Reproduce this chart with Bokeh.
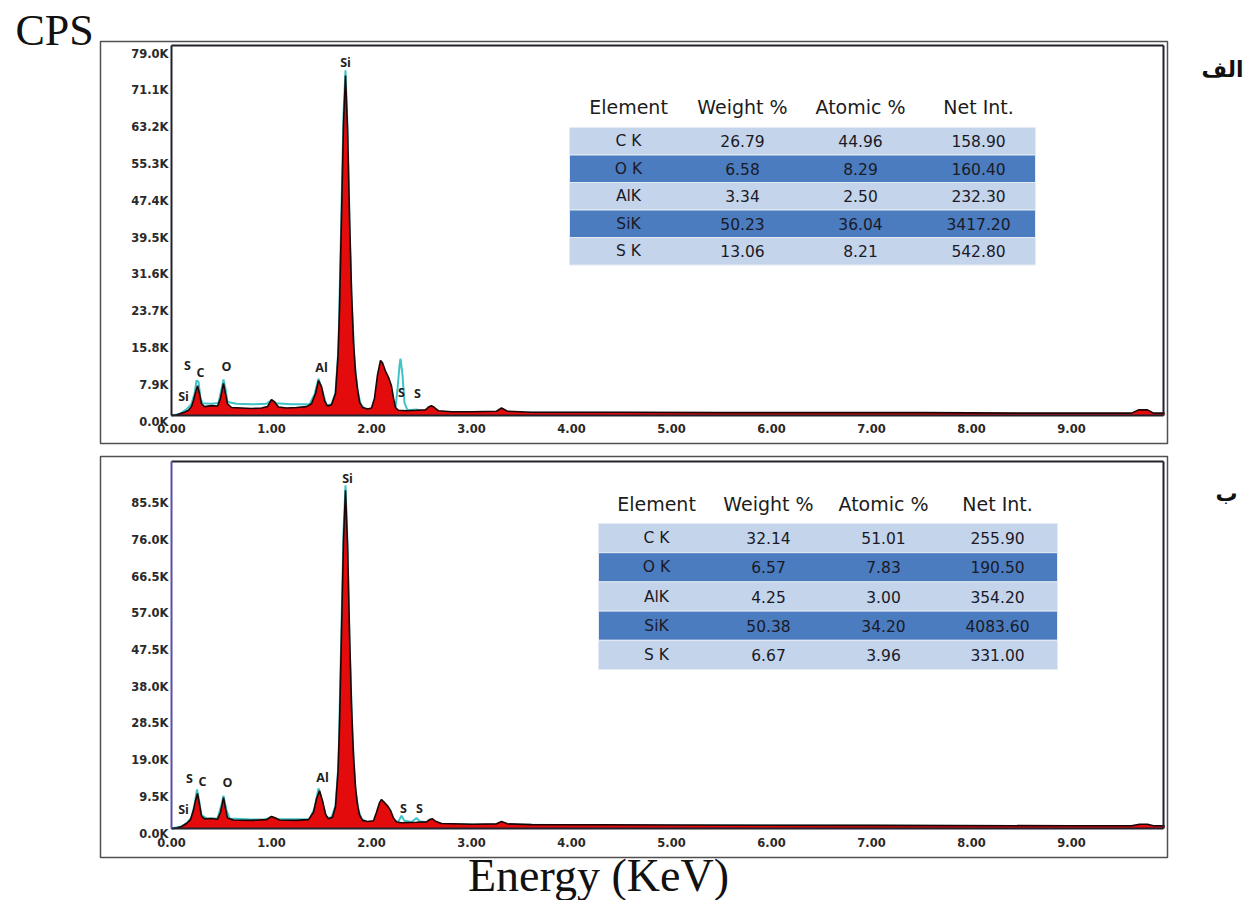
from bokeh.plotting import figure
from bokeh.layouts import column
from bokeh.models import (ColumnDataSource, FixedTicker, LinearAxis, Range1d,
                          CustomJSTickFormatter)
from bokeh.embed import file_html
from bokeh.resources import INLINE
from bokeh.core.properties import value

# ---------------- data: spectrum "الف" (top) ----------------
top_red_energy = [0.00, 0.05, 0.09, 0.13, 0.17, 0.20, 0.22, 0.24, 0.26, 0.28, 0.30, 0.33, 0.40, 0.46,
                  0.49, 0.51, 0.52, 0.54, 0.56, 0.60, 0.70, 0.80, 0.90, 0.96, 1.00, 1.03, 1.07, 1.15,
                  1.25, 1.35, 1.40, 1.44, 1.47, 1.50, 1.53, 1.56, 1.60, 1.64, 1.665, 1.68, 1.70, 1.72,
                  1.74, 1.76, 1.78, 1.80, 1.82, 1.84, 1.86, 1.88, 1.91, 1.96, 2.00, 2.03, 2.06, 2.09,
                  2.11, 2.14, 2.17, 2.20, 2.22, 2.24, 2.27, 2.35, 2.45, 2.54, 2.57, 2.60, 2.63, 2.67,
                  2.80, 3.00, 3.25, 3.30, 3.36, 3.60, 4.50, 5.50, 6.50, 7.50, 8.50, 9.60, 9.67, 9.76,
                  9.82, 9.93]
top_red_counts = [1.3, 1.4, 1.7, 2.0, 2.4, 3.2, 4.5, 6.2, 7.7, 6.0, 3.8, 3.2, 3.4, 3.3,
                  5.0, 7.2, 8.2, 6.0, 3.8, 3.0, 2.9, 2.8, 2.9, 3.2, 4.7, 4.2, 3.1, 2.9,
                  3.0, 3.2, 3.8, 6.0, 8.8, 7.5, 4.5, 3.3, 3.6, 6.0, 14.0, 24.0, 44.0, 64.0,
                  74.3, 63.0, 44.0, 28.0, 17.0, 10.5, 7.0, 4.2, 3.0, 2.7, 2.9, 5.0, 10.0, 13.1,
                  12.6, 10.8, 9.5, 7.6, 5.0, 3.0, 2.4, 2.3, 2.4, 2.5, 3.1, 3.4, 3.0, 2.3,
                  2.1, 2.1, 2.2, 2.9, 2.2, 2.0, 2.0, 1.9, 1.9, 1.9, 1.8, 1.8, 2.5, 2.5,
                  1.8, 1.8]
top_cyan_energy = [0.00, 0.08, 0.15, 0.20, 0.23, 0.25, 0.27, 0.29, 0.31, 0.40, 0.47, 0.50, 0.52, 0.54,
                   0.56, 0.65, 0.80, 0.95, 1.00, 1.05, 1.20, 1.38, 1.43, 1.47, 1.51, 1.55, 1.60, 1.64,
                   1.67, 1.70, 1.72, 1.74, 1.76, 1.78, 1.80, 1.83, 1.86, 1.89, 1.93, 2.00, 2.10, 2.20,
                   2.24, 2.26, 2.28, 2.29, 2.31, 2.33, 2.36, 2.45, 2.50, 2.60, 2.70, 3.00, 4.00, 5.00,
                   6.00, 7.00, 8.00, 9.00, 9.93]
top_cyan_counts = [1.3, 1.6, 2.6, 3.8, 6.0, 8.8, 8.5, 5.0, 3.9, 3.8, 4.0, 7.0, 9.0, 7.0,
                   4.2, 3.8, 3.7, 3.8, 4.6, 3.9, 3.7, 3.7, 5.8, 9.2, 6.5, 3.5, 3.7, 6.2,
                   16.0, 46.0, 66.0, 75.4, 63.0, 43.0, 27.0, 13.0, 6.8, 3.8, 2.8, 2.6, 2.6, 2.6,
                   3.0, 7.0, 12.0, 13.5, 10.0, 4.0, 2.4, 2.6, 2.2, 2.5, 2.0, 1.9, 1.9, 1.8,
                   1.8, 1.7, 1.6, 1.6, 1.6]

# ---------------- data: spectrum "ب" (bottom) ----------------
bot_red_energy = [0.00, 0.05, 0.10, 0.15, 0.19, 0.22, 0.24, 0.26, 0.28, 0.30, 0.33, 0.40, 0.46, 0.49,
                  0.51, 0.52, 0.54, 0.56, 0.62, 0.80, 0.95, 1.00, 1.04, 1.08, 1.25, 1.37, 1.42, 1.45,
                  1.48, 1.51, 1.54, 1.57, 1.61, 1.64, 1.665, 1.68, 1.70, 1.72, 1.74, 1.76, 1.78, 1.80,
                  1.82, 1.84, 1.86, 1.88, 1.91, 1.96, 2.02, 2.05, 2.08, 2.10, 2.13, 2.16, 2.19, 2.22,
                  2.25, 2.30, 2.45, 2.55, 2.58, 2.61, 2.64, 2.70, 3.00, 3.25, 3.30, 3.36, 3.60, 5.00,
                  7.00, 9.00, 9.60, 9.68, 9.76, 9.82, 9.93]
bot_red_counts = [1.3, 1.4, 1.8, 2.6, 3.6, 6.0, 8.5, 10.4, 7.5, 4.5, 3.8, 3.9, 3.7, 5.5,
                  8.0, 9.3, 6.5, 4.0, 3.5, 3.4, 3.6, 4.4, 4.0, 3.5, 3.4, 3.6, 5.5, 9.0,
                  11.1, 8.5, 5.0, 3.8, 4.2, 7.0, 16.0, 28.0, 52.0, 76.0, 88.9, 75.0, 52.0, 33.0,
                  20.0, 12.0, 7.5, 4.8, 3.4, 3.1, 3.3, 5.5, 8.0, 8.8, 8.0, 7.2, 6.0, 4.0,
                  3.0, 2.8, 2.9, 3.0, 3.6, 3.8, 3.2, 2.6, 2.4, 2.5, 3.1, 2.5, 2.3, 2.2,
                  2.1, 2.0, 2.0, 2.4, 2.4, 2.0, 2.0]
bot_cyan_energy = [0.00, 0.10, 0.16, 0.20, 0.23, 0.255, 0.28, 0.30, 0.35, 0.46, 0.50, 0.52, 0.55, 0.58,
                   0.80, 0.95, 1.00, 1.06, 1.38, 1.43, 1.47, 1.51, 1.55, 1.60, 1.64, 1.67, 1.70, 1.72,
                   1.74, 1.76, 1.78, 1.81, 1.84, 1.87, 1.90, 1.95, 2.05, 2.20, 2.27, 2.30, 2.33, 2.40,
                   2.45, 2.48, 2.55, 2.70, 3.00, 5.00, 7.00, 9.00, 9.93]
bot_cyan_counts = [1.3, 1.8, 2.9, 4.2, 7.5, 11.4, 8.0, 4.8, 3.9, 3.9, 7.5, 9.8, 6.0, 3.9,
                   3.6, 3.7, 4.3, 3.7, 3.7, 6.5, 11.7, 8.0, 4.0, 4.2, 7.2, 18.0, 54.0, 78.0,
                   90.2, 75.0, 50.0, 25.0, 11.0, 6.0, 3.8, 3.0, 3.0, 3.0, 3.2, 4.6, 3.3, 3.0,
                   4.0, 3.2, 2.9, 2.5, 2.3, 2.1, 2.0, 1.9, 1.9]

# ---------------- peak labels ----------------
top_peak_names = ["Si", "S", "C", "O", "Al", "Si", "S", "S"]
top_peak_x = [1.74, 0.16, 0.29, 0.55, 1.50, 0.12, 2.30, 2.46]
top_peak_y = [77.1, 12.0, 10.5, 11.8, 11.6, 5.4, 6.2, 6.0]
bot_peak_names = ["Si", "S", "C", "O", "Al", "Si", "S", "S"]
bot_peak_x = [1.76, 0.18, 0.31, 0.56, 1.51, 0.12, 2.32, 2.48]
bot_peak_y = [92.0, 14.2, 13.5, 13.2, 14.5, 6.2, 6.5, 6.5]

# ---------------- ticks ----------------
x_ticks = [0, 1, 2, 3, 4, 5, 6, 7, 8, 9]
top_y_ticks = [0.0, 7.9, 15.8, 23.7, 31.6, 39.5, 47.4, 55.3, 63.2, 71.1, 79.0]
bot_y_ticks = [0.0, 9.5, 19.0, 28.5, 38.0, 47.5, 57.0, 66.5, 76.0, 85.5]

# ---------------- tables ----------------
table_header = ["Element", "Weight %", "Atomic %", "Net Int."]
table_elements = ["C K", "O K", "AlK", "SiK", "S K"]
top_weight = ["26.79", "6.58", "3.34", "50.23", "13.06"]
top_atomic = ["44.96", "8.29", "2.50", "36.04", "8.21"]
top_netint = ["158.90", "160.40", "232.30", "3417.20", "542.80"]
bot_weight = ["32.14", "6.57", "4.25", "50.38", "6.67"]
bot_atomic = ["51.01", "7.83", "3.00", "34.20", "3.96"]
bot_netint = ["255.90", "190.50", "354.20", "4083.60", "331.00"]

# ---------------- styling / layout constants ----------------
RED = "#e30b0b"
CYAN = "#3fc3c8"
LIGHT_ROW = "#c4d4ea"
DARK_ROW = "#4a7cbf"
TICK_FONT = "DejaVu Sans"
W, H = 1245, 450
X0_PX, PX_PER_KEV = 171, 100.0
X_MAX = 9.92


class Panel:
    """pixel <-> data helper for one panel (canvas is all frame)."""
    def __init__(self, zero_py, px_per_k, top_offset):
        self.zero_py = zero_py        # page pixel of 0 counts
        self.k = px_per_k
        self.off = top_offset         # page y of the canvas top

    def ex(self, px):
        return (px - X0_PX) / PX_PER_KEV

    def vy(self, py):
        return (self.zero_py - py) / self.k


def make_panel(pn, inner_top_py, inner_bot_py, outer, yticks,
               red_e, red_c, cyan_e, cyan_c, left_color, xlabel_standoff):
    p = figure(width=W, height=H, output_backend="svg", toolbar_location=None,
               x_range=Range1d(pn.ex(0), pn.ex(W)),
               y_range=Range1d(pn.vy(pn.off + H), pn.vy(pn.off)),
               x_axis_location=None, y_axis_location=None,
               min_border=0, min_border_left=0, min_border_right=0,
               min_border_top=0, min_border_bottom=0,
               background_fill_color="white", border_fill_color="white")
    p.grid.visible = False
    p.outline_line_color = None
    ymin, ymax = pn.vy(inner_bot_py), pn.vy(inner_top_py)

    # outer box
    ol, orr, ot, ob = outer
    p.quad(left=pn.ex(ol), right=pn.ex(orr), top=pn.vy(ot), bottom=pn.vy(ob),
           fill_color=None, line_color="#505050", line_width=1.5)

    # spectra
    cyan_src = ColumnDataSource(dict(x=cyan_e, y=cyan_c))
    red_src = ColumnDataSource(dict(x=red_e, y=red_c))
    p.line("x", "y", source=cyan_src, line_color=CYAN, line_width=2)
    p.varea(x="x", y1=ymin, y2="y", source=red_src, fill_color=RED)
    p.line("x", "y", source=red_src, line_color="#1c0505", line_width=1.6)

    # inner plot frame
    p.segment(x0=[0, 0, X_MAX, 0], y0=[ymax, ymin, ymin, ymin],
              x1=[X_MAX, X_MAX, X_MAX, 0], y1=[ymax, ymin, ymax, ymax],
              line_color=["#22222e", "#22222e", "#22222e", left_color], line_width=2)

    xax = LinearAxis(fixed_location=ymin, ticker=FixedTicker(ticks=x_ticks),
                     formatter=CustomJSTickFormatter(code="return tick.toFixed(2);"))
    yax = LinearAxis(fixed_location=0, ticker=FixedTicker(ticks=yticks),
                     formatter=CustomJSTickFormatter(code="return tick.toFixed(1) + 'K';"))
    for ax in (xax, yax):
        ax.axis_line_color = None
        ax.major_tick_line_color = None
        ax.minor_tick_line_color = None
        ax.major_tick_out = 0
        ax.major_tick_in = 0
        ax.major_label_text_font = TICK_FONT
        ax.major_label_text_font_style = "bold"
        ax.major_label_text_font_size = "11.5px"
        ax.major_label_text_color = "#2a2a2a"
    xax.major_label_standoff = xlabel_standoff
    yax.major_label_standoff = 3
    p.add_layout(xax, "below")
    p.add_layout(yax, "left")
    return p


def add_peak_labels(p, names, xs, ys):
    src = ColumnDataSource(dict(x=xs, y=ys, t=names))
    p.text("x", "y", text="t", source=src, text_font=value("Open Sans"),
           text_font_style="bold", text_font_size="12.5px", text_color="#1e1e1e",
           text_align="center", text_baseline="middle")


def add_table(p, pn, left_px, right_px, top_py, row_px, header_py, col_px,
              weight, atomic, netint):
    n = len(table_elements)
    left, right = pn.ex(left_px), pn.ex(right_px)
    yc = [pn.vy(top_py + row_px * (i + 0.5)) for i in range(n)]
    row_h = row_px / pn.k
    colors = [LIGHT_ROW if i % 2 == 0 else DARK_ROW for i in range(n)]
    p.rect(x=[(left + right) / 2] * n, y=yc, width=right - left, height=row_h,
           fill_color=colors, line_color="#e4ebf5", line_width=1)
    col_x = [pn.ex(c) for c in col_px]
    hsrc = ColumnDataSource(dict(x=col_x, y=[pn.vy(header_py)] * 4, t=table_header))
    p.text("x", "y", text="t", source=hsrc, text_font=value("DejaVu Sans"),
           text_font_size="19px", text_color="#1c1c1c", text_align="center",
           text_baseline="middle")
    for cx, col in zip(col_x, [table_elements, weight, atomic, netint]):
        src = ColumnDataSource(dict(x=[cx] * n, y=yc, t=col))
        p.text("x", "y", text="t", source=src, text_font=value("DejaVu Sans"),
               text_font_size="15.5px", text_color="#1a1a28", text_align="center",
               text_baseline="middle")


def add_text(p, x, y, t, font, size, align="center", style="normal"):
    p.text(x=[x], y=[y], text=[t], text_font=value(font), text_font_size=size,
           text_font_style=style, text_color="#111111", text_align=align,
           text_baseline="middle")


# ---------------- top panel ----------------
pt = Panel(zero_py=421, px_per_k=4.658, top_offset=0)
p1 = make_panel(pt, 45, 415, (100, 1167, 41, 443), top_y_ticks,
                top_red_energy, top_red_counts, top_cyan_energy, top_cyan_counts,
                "#22222e", 8)
add_peak_labels(p1, top_peak_names, top_peak_x, top_peak_y)
add_table(p1, pt, 569, 1035, 127, 27.5, 106, [628, 742, 860, 978],
          top_weight, top_atomic, top_netint)
add_text(p1, pt.ex(15), pt.vy(30), "CPS", "Liberation Serif", "44px", align="left")
add_text(p1, pt.ex(1222), pt.vy(69), "الف", "DejaVu Sans", "22px", style="bold")

# ---------------- bottom panel ----------------
pb = Panel(zero_py=833, px_per_k=3.86, top_offset=450)
p2 = make_panel(pb, 461, 828, (100, 1167, 456, 857), bot_y_ticks,
                bot_red_energy, bot_red_counts, bot_cyan_energy, bot_cyan_counts,
                "#5a4fa8", 9)
add_peak_labels(p2, bot_peak_names, bot_peak_x, bot_peak_y)
add_table(p2, pb, 598, 1057, 523, 29.2, 503, [656, 768, 883, 997],
          bot_weight, bot_atomic, bot_netint)
add_text(p2, pb.ex(1226), pb.vy(493), "ب", "DejaVu Sans", "22px", style="bold")
add_text(p2, pb.ex(598), pb.vy(875), "Energy (KeV)", "Liberation Serif", "46px")

layout = column(p1, p2, spacing=0)
open("out.html", "w").write(file_html(layout, INLINE))
